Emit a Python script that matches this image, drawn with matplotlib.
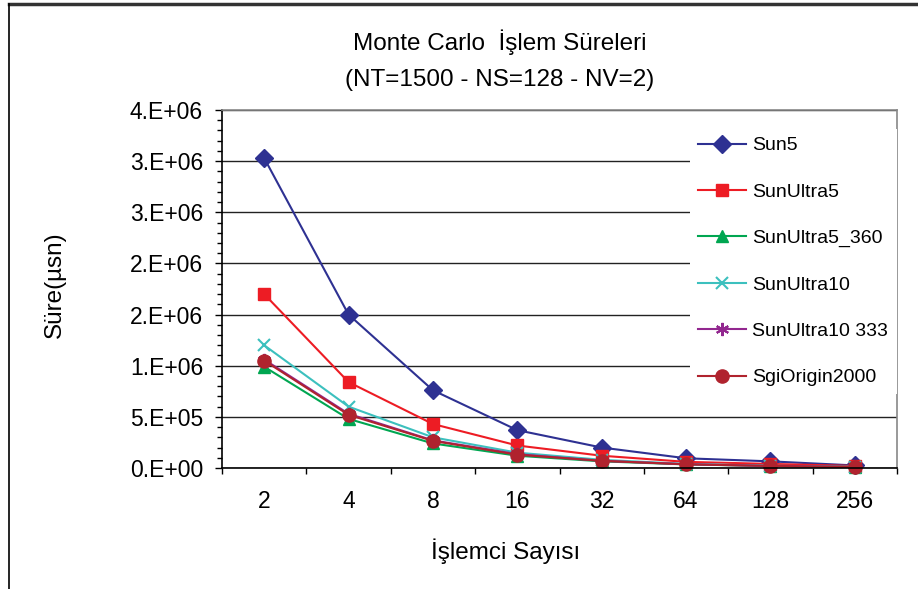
import matplotlib
matplotlib.use('Agg')
import matplotlib.pyplot as plt
from matplotlib.lines import Line2D
from matplotlib.ticker import MultipleLocator

plt.rcParams['font.family'] = ['Liberation Sans', 'DejaVu Sans']

# islemci sayisi (kategori)
islemci = ['2', '4', '8', '16', '32', '64', '128', '256']

# sureler (mikrosaniye)
sun5 = [3.03e6, 1.50e6, 0.76e6, 0.37e6, 0.20e6, 0.095e6, 0.065e6, 0.025e6]
sunultra5 = [1.70e6, 0.84e6, 0.43e6, 0.22e6, 0.12e6, 0.06e6, 0.04e6, 0.02e6]
sunultra5_360 = [0.99e6, 0.48e6, 0.24e6, 0.12e6, 0.065e6, 0.035e6, 0.02e6, 0.01e6]
sunultra10 = [1.20e6, 0.60e6, 0.30e6, 0.15e6, 0.08e6, 0.04e6, 0.022e6, 0.012e6]
sunultra10_333 = [1.06e6, 0.53e6, 0.27e6, 0.135e6, 0.07e6, 0.037e6, 0.02e6, 0.01e6]
sgiorigin2000 = [1.05e6, 0.52e6, 0.265e6, 0.13e6, 0.07e6, 0.036e6, 0.02e6, 0.01e6]

y_ticks = [0, 0.5e6, 1.0e6, 1.5e6, 2.0e6, 2.5e6, 3.0e6, 3.5e6]
y_labels = ['0.E+00', '5.E+05', '1.E+06', '2.E+06', '2.E+06', '3.E+06', '3.E+06', '4.E+06']

seriler = [
    ('Sun5', sun5, '#2E3192', 'D', 9),
    ('SunUltra5', sunultra5, '#ED1C24', 's', 9),
    ('SunUltra5_360', sunultra5_360, '#00A651', '^', 9),
    ('SunUltra10', sunultra10, '#3CC0BE', 'x', 9),
    ('SunUltra10 333', sunultra10_333, '#92278F', (6, 2, 0), 9.5),
    ('SgiOrigin2000', sgiorigin2000, '#B0232E', 'o', 9.5),
]

fig = plt.figure(figsize=(9.18, 5.89), dpi=100)
ax = fig.add_axes([222/918, 1-468/589, 675/918, 358/589])

x = list(range(len(islemci)))
for ad, deger, renk, mk, ms in seriler:
    ax.plot(x, deger, color=renk, marker=mk, markersize=ms, lw=1.5,
            markeredgewidth=1.5 if mk in ('x', (6, 2, 0)) else 1,
            label=ad, clip_on=False)

ax.set_xlim(-0.5, len(islemci) - 0.5)
ax.set_ylim(0, 3.5e6)

ax.set_yticks(y_ticks)
ax.set_yticklabels(y_labels)
ax.yaxis.set_minor_locator(MultipleLocator(1e5))

ax.set_xticks([i - 0.5 for i in range(len(islemci) + 1)])
ax.set_xticklabels([])
ax.set_xticks(x, minor=True)
ax.set_xticklabels(islemci, minor=True)

ax.tick_params(axis='x', which='major', length=4.3, width=1, direction='out')
ax.tick_params(axis='x', which='minor', length=0, pad=16, labelsize=16.5)
ax.tick_params(axis='y', which='major', length=5, width=1, pad=8.6, labelsize=16.5)
ax.tick_params(axis='y', which='minor', length=3.6, width=1)

ax.grid(axis='y', which='major', color='#222222', lw=1)
ax.set_axisbelow(True)

ax.spines['left'].set_color('black')
ax.spines['bottom'].set_color('black')
ax.spines['top'].set_color('#888888')
ax.spines['right'].set_color('#888888')
for s in ax.spines.values():
    s.set_linewidth(1.2)

ax.legend(loc='upper left', bbox_to_anchor=(0.693, 0.17, 0.307, 0.777), mode='expand',
          frameon=True, fancybox=False, edgecolor='none', facecolor='white', framealpha=1,
          fontsize=14, labelspacing=1.48, handlelength=2.5, handletextpad=0.3,
          borderpad=0.4, borderaxespad=0)

fig.text(500/918, 1-42/589, 'Monte Carlo  İşlem Süreleri', ha='center', va='center', fontsize=17.5)
fig.text(500/918, 1-80/589, '(NT=1500 - NS=128 - NV=2)', ha='center', va='center', fontsize=17.5)
fig.text(506/918, 1-551/589, 'İşlemci Sayısı', ha='center', va='center', fontsize=17.5)
fig.text(55/918, 1-285/589, 'Süre(µsn)', ha='center', va='center', rotation=90, fontsize=17.5)

# cerceve
fig.add_artist(Line2D([9/918, 1], [1-4/589, 1-4/589], color='#333333', lw=2.5))
fig.add_artist(Line2D([9/918, 9/918], [0, 1-4/589], color='black', lw=1.2))

fig.savefig('out.png', dpi=100)
